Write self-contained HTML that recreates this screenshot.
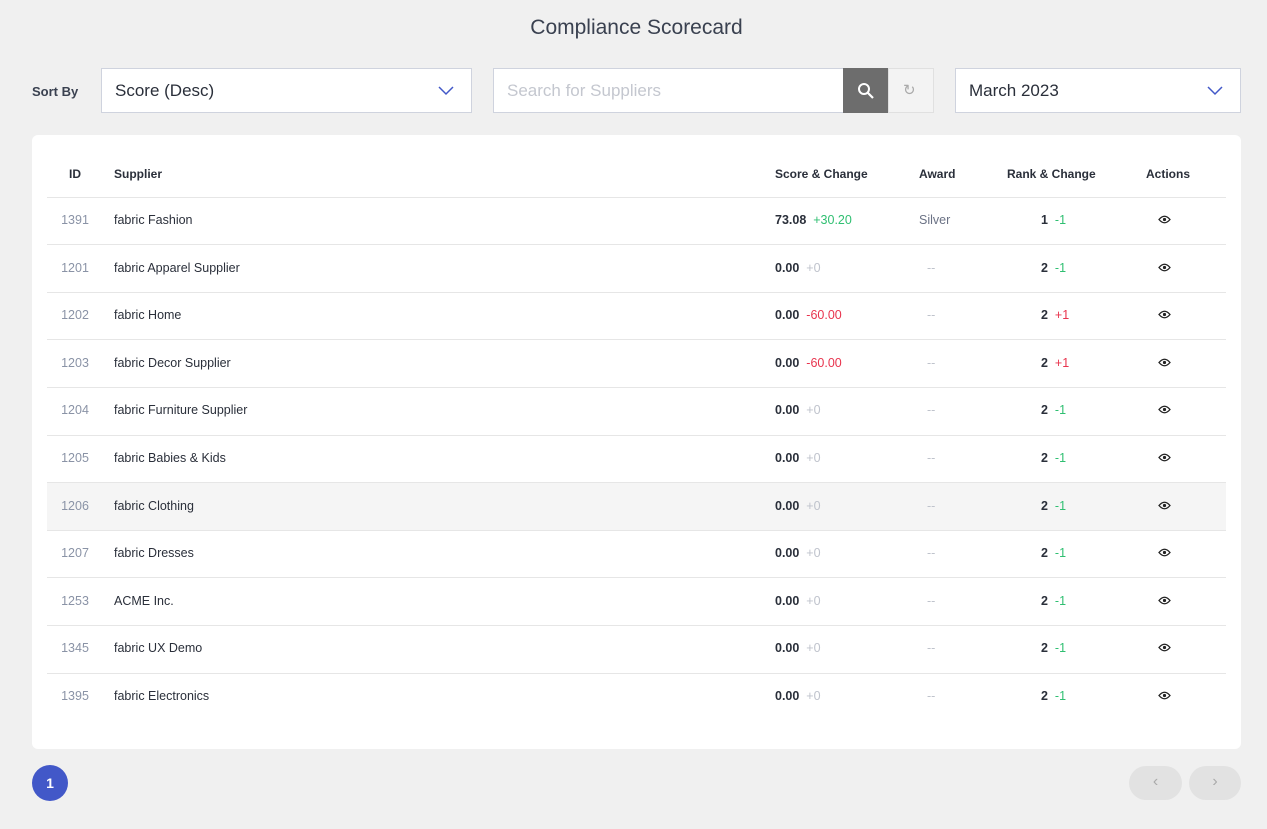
<!DOCTYPE html>
<html><head><style>
body{margin:0;width:1267px;height:829px;background:#f0f0f0;font-family:"Liberation Sans",sans-serif;position:relative;overflow:hidden;color:#2a2f3a}
.a{position:absolute}
.title{left:0;width:1273px;top:16px;text-align:center;font-size:21px;color:#3a4150}
.box{background:#fff;border:1px solid #cfd3de;box-sizing:border-box}
.card{left:32px;top:135px;width:1209px;height:614px;background:#fff;border-radius:6px}
.h{font-size:12px;font-weight:bold;color:#2a2f3a;top:167px}
.line{left:47px;width:1179px;height:1px;background:#e6e6e6}
.r{font-size:12.5px}
.id{color:#8a93a6;width:60px;left:45px;text-align:center}
.g{color:#2fbf71}.red{color:#e8344e}.gr{color:#bfc3cc}
.b{font-weight:bold}
</style></head><body>
<div class="a title">Compliance Scorecard</div>
<div class="a b" style="left:32px;top:84px;font-size:13px;color:#3a4150">Sort By</div>
<div class="a box" style="left:101px;top:68px;width:371px;height:45px"></div>
<div class="a" style="left:115px;top:81px;font-size:17px;color:#2a2f3a">Score (Desc)</div>
<svg class="a" style="left:438px;top:86px" width="16" height="10"><path d="M1 1l7 7 7-7" fill="none" stroke="#4258c8" stroke-width="1.5"/></svg>
<div class="a box" style="left:493px;top:68px;width:351px;height:45px"></div>
<div class="a" style="left:507px;top:81px;font-size:17px;color:#c4c7cf">Search for Suppliers</div>
<div class="a" style="left:843px;top:68px;width:45px;height:45px;background:#6d6d6d"></div>
<svg class="a" style="left:857px;top:82px" width="18" height="18"><circle cx="7" cy="7" r="5" fill="none" stroke="#fff" stroke-width="2"/><path d="M11 11l5 5" stroke="#fff" stroke-width="2.2"/></svg>
<div class="a box" style="left:888px;top:68px;width:46px;height:45px;background:#f3f3f3;border-color:#e0e0e0"></div>
<div class="a" style="left:903px;top:81px;font-size:15px;color:#aaa">↻</div>
<div class="a box" style="left:955px;top:68px;width:286px;height:45px"></div>
<div class="a" style="left:969px;top:81px;font-size:17px;color:#2a2f3a">March 2023</div>
<svg class="a" style="left:1207px;top:86px" width="16" height="10"><path d="M1 1l7 7 7-7" fill="none" stroke="#4258c8" stroke-width="1.5"/></svg>
<div class="a card"></div>
<div class="a" style="left:47px;top:483px;width:1179px;height:47px;background:#f5f5f5"></div>
<div class="a h" style="left:69px">ID</div>
<div class="a h" style="left:114px">Supplier</div>
<div class="a h" style="left:775px">Score &amp; Change</div>
<div class="a h" style="left:919px">Award</div>
<div class="a h" style="left:1007px">Rank &amp; Change</div>
<div class="a h" style="left:1146px">Actions</div>
<div id="rows"></div>
<div class="a" style="left:32px;top:765px;width:36px;height:36px;border-radius:50%;background:#4258c8;color:#fff;text-align:center;line-height:36px;font-size:14px;font-weight:bold">1</div>
<div class="a" style="left:1129px;top:766px;width:53px;height:34px;border-radius:17px;background:#e2e2e2;color:#aaa;text-align:center;line-height:32px;font-size:16px">‹</div>
<div class="a" style="left:1189px;top:766px;width:52px;height:34px;border-radius:17px;background:#e2e2e2;color:#aaa;text-align:center;line-height:32px;font-size:16px">›</div>
<script>
var d=[["1391","fabric Fashion","73.08","+30.20","g","Silver","1"],
["1201","fabric Apparel Supplier","0.00","+0","gr","--","2","g"],
["1202","fabric Home","0.00","-60.00","red","--","2","r"],
["1203","fabric Decor Supplier","0.00","-60.00","red","--","2","r"],
["1204","fabric Furniture Supplier","0.00","+0","gr","--","2"],
["1205","fabric Babies & Kids","0.00","+0","gr","--","2"],
["1206","fabric Clothing","0.00","+0","gr","--","2"],
["1207","fabric Dresses","0.00","+0","gr","--","2"],
["1253","ACME Inc.","0.00","+0","gr","--","2"],
["1345","fabric UX Demo","0.00","+0","gr","--","2"],
["1395","fabric Electronics","0.00","+0","gr","--","2"]];
var h="";
for(var i=0;i<d.length;i++){var r=d[i];var c=220+i*47.6;var t=c-7;var L=c-23.5;
h+='<div class="a line" style="top:'+L+'px"></div>';
h+='<div class="a r id" style="top:'+t+'px">'+r[0]+'</div>';
h+='<div class="a r" style="left:114px;top:'+t+'px">'+r[1].replace("&","&amp;")+'</div>';
h+='<div class="a r" style="left:775px;top:'+t+'px"><span class="b">'+r[2]+'</span>&nbsp;&nbsp;<span class="'+r[4]+'">'+r[3]+'</span></div>';
h+= r[5]=="Silver"?'<div class="a r" style="left:919px;top:'+t+'px;color:#6b7285">Silver</div>':'<div class="a r gr" style="left:927px;top:'+t+'px">--</div>';
var rc=r[7]=="r"?'<span class="red">+1</span>':'<span class="g">-1</span>';
h+='<div class="a r" style="left:1041px;top:'+t+'px"><span class="b">'+r[6]+'</span>&nbsp;&nbsp;'+rc+'</div>';
h+='<svg class="a" style="left:1158px;top:'+(c-5)+'px" width="13" height="9"><path d="M1 4.5Q6.5-2 12 4.5Q6.5 11 1 4.5Z" fill="none" stroke="#222" stroke-width="1.3"/><circle cx="6.5" cy="4.5" r="1.6" fill="#222"/></svg>';}
document.getElementById("rows").innerHTML=h;
</script>
</body></html>
